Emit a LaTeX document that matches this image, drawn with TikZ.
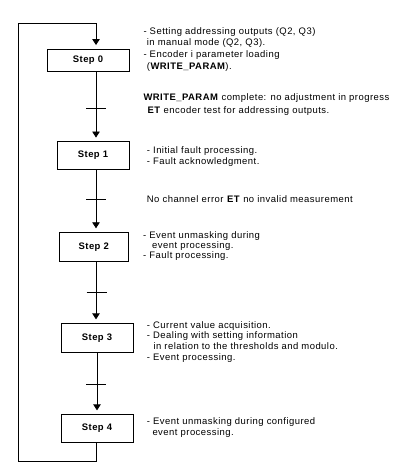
\documentclass[tikz,border=0pt]{standalone}
\usepackage{fontspec}
\setmainfont{Liberation Sans}
\newfontfamily\df[LetterSpace=5]{Liberation Sans}
\usetikzlibrary{arrows.meta}
\begin{document}
\begin{tikzpicture}[x=1bp,y=-1bp,
  stepbox/.style={draw, line width=0.9bp, inner sep=0, font=\df\bfseries\fontsize{9.5}{11}\selectfont},
  flow/.style={line width=0.9bp, -{Triangle[length=6bp,width=7.5bp]}, shorten >=3.5bp},
  wire/.style={line width=0.9bp},
  note/.style={anchor=north west, inner sep=0, align=left, font=\df\fontsize{9.5}{#1}\selectfont},
  note/.default=11.7]
\useasboundingbox (0,0) rectangle (412,469);
\fill[white] (0,0) rectangle (412,469);
% steps
\node[stepbox, minimum width=82bp, minimum height=22bp] (S0) at (88,60) {Step 0};
\node[stepbox, minimum width=72bp, minimum height=28bp] (S1) at (93,155.5) {Step 1};
\node[stepbox, minimum width=69.5bp, minimum height=29.5bp] (S2) at (93.75,247) {Step 2};
\node[stepbox, minimum width=72bp, minimum height=29bp] (S3) at (97,337.8) {Step 3};
\node[stepbox, minimum width=72bp, minimum height=28bp] (S4) at (97,428.3) {Step 4};
% line positions
\coordinate (c0) at (96,0);
\coordinate (c3) at (97,0);
\coordinate (lb) at (18,461);
\coordinate (lt) at (18,23);
% connectors
\draw[flow] (S0.south -| c0) -- (S1.north -| c0);
\draw[flow] (S1.south -| c0) -- (S2.north -| c0);
\draw[flow] (S2.south -| c0) -- (S3.north -| c0);
\draw[flow] (S3.south -| c3) -- (S4.north -| c3);
\draw[flow] (S4.south -| c0) |- (lb) -- (lt) -| (S0.north -| c0);
% transition ticks
\coordinate (t0) at (96,108);
\coordinate (t1) at (96,199.3);
\coordinate (t2) at (96.5,292.7);
\coordinate (t3) at (96,384);
\foreach \t in {t0,t1,t2,t3}
  \draw[wire] ([xshift=-10bp]\t) -- ([xshift=10bp]\t);
% texts
\node[note] (B0) at (143.3,27) {- Setting addressing outputs (Q2, Q3)\\
  \hspace*{3.4bp}in manual mode (Q2, Q3).\\
  - Encoder i parameter loading\\
  \hspace*{3.4bp}(\textbf{WRITE\_PARAM}).};
\node[note=12.5] (T0) at (143.3,93.5) {\textbf{WRITE\_PARAM} complete: no adjustment in progress\\
  \hspace*{4bp}\textbf{ET} encoder test for addressing outputs.};
\node[note] (B1) at (146.7,146) {- Initial fault processing.\\
  - Fault acknowledgment.};
\node[note] (T1) at (146.7,195.5) {No channel error \textbf{ET} no invalid measurement};
\node[note=10] (B2) at (143,231.5) {- Event unmasking during\\
  \hspace*{9bp}event processing.\\
  - Fault processing.};
\node[note=10.7] (B3) at (146.7,321) {- Current value acquisition.\\
  - Dealing with setting information\\
  \hspace*{6.6bp}in relation to the thresholds and modulo.\\
  - Event processing.};
\node[note=10.5] (B4) at (146.7,417.5) {- Event unmasking during configured\\
  \hspace*{5.6bp}event processing.};
\end{tikzpicture}
\end{document}
